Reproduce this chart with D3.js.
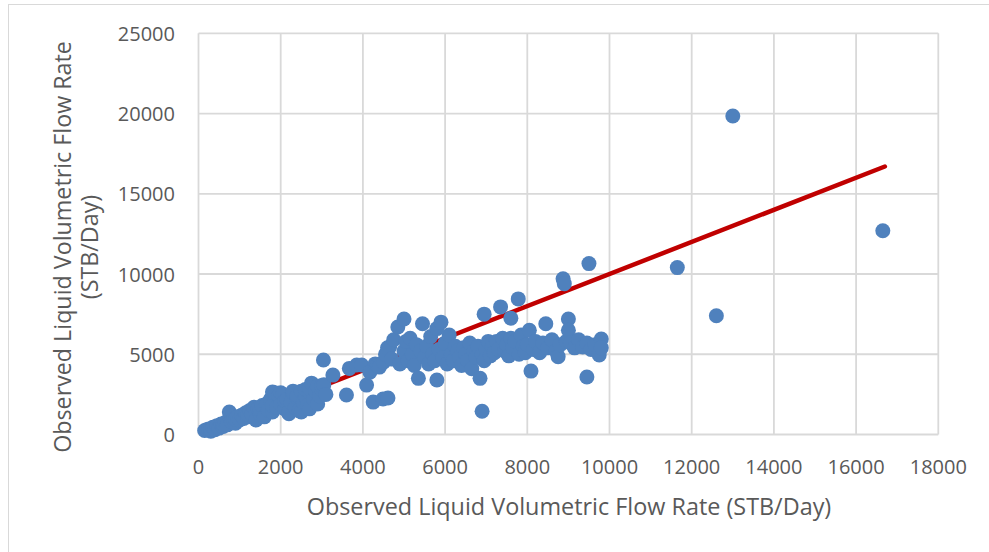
<!DOCTYPE html>
<html>
<head>
<meta charset="utf-8">
<script src="https://cdn.jsdelivr.net/npm/d3@7"></script>
<style>
  body { margin: 0; background: #fff; }
  text { font-family: "Open Sans", "Noto Sans", sans-serif; fill: #595959; }
</style>
</head>
<body>
<script>
// tick values
var xTicks = [0, 2000, 4000, 6000, 8000, 10000, 12000, 14000, 16000, 18000];
var yTicks = [0, 5000, 10000, 15000, 20000, 25000];

// observed vs predicted, [x, y] (STB/Day)
var lowRatePoints = [
  [150, 250], [200, 300], [250, 350], [300, 200], [300, 320], [350, 450], [400, 300],
  [450, 550], [500, 400], [550, 650], [600, 500], [600, 650], [650, 750], [700, 600],
  [750, 1400], [800, 800], [850, 950], [900, 700], [900, 950], [950, 1100], [1000, 900],
  [1050, 1200], [1100, 1000], [1150, 1350], [1200, 1100], [1200, 1250], [1250, 1500],
  [1300, 1250], [1350, 1700], [1400, 900], [1450, 1600], [1500, 1300], [1500, 1550],
  [1550, 1800], [1600, 1100], [1650, 1900], [1700, 1500], [1750, 2200], [1800, 1400],
  [1800, 1800], [1800, 2650], [1850, 2600], [1900, 1700], [1950, 2400], [2000, 1900],
  [2000, 2600], [2050, 2500], [2100, 1600], [2100, 2100], [2150, 2200], [2200, 1300],
  [2200, 1400], [2250, 2000], [2300, 2600], [2300, 2700], [2350, 1700], [2400, 2300],
  [2400, 2450], [2450, 1500], [2500, 1400], [2500, 2700], [2550, 2000], [2600, 2400],
  [2600, 2800], [2650, 1800], [2700, 1600], [2700, 2650], [2700, 2900], [2750, 3200],
  [2800, 2200], [2850, 2700], [2900, 1900], [2900, 3000], [2950, 2400], [3000, 2800],
  [3000, 3050], [3050, 3100], [3100, 2500]
];

var midRatePoints = [
  [3040, 4640], [3270, 3700], [3600, 2460], [3670, 4120], [3850, 4330], [3970, 4330],
  [4090, 3080], [4170, 3890], [4250, 2020], [4300, 4400], [4350, 4300], [4400, 4200],
  [4490, 2210], [4500, 4500], [4550, 5000], [4610, 2270], [4650, 5450]
];

var highRatePoints = [
  [4600, 5400], [4700, 4700], [4750, 5900], [4850, 6700], [4900, 4400], [5000, 7200],
  [5000, 5200], [5050, 5800], [5100, 4600], [5150, 6000], [5200, 5000], [5250, 4300],
  [5300, 5600], [5350, 3500], [5400, 5200], [5450, 6900], [5500, 4800], [5550, 5500],
  [5600, 4400], [5650, 6100], [5700, 5000], [5750, 4600], [5800, 3400], [5800, 6600],
  [5850, 5300], [5900, 7000], [5950, 4800], [6000, 5700], [6050, 4400], [6100, 6200],
  [6150, 5000], [6200, 4600], [6250, 5500], [6300, 5200], [6350, 4800], [6400, 4300],
  [6450, 5400], [6500, 5000], [6550, 4600], [6600, 5700], [6650, 4100], [6700, 5200],
  [6750, 4800], [6800, 5500], [6850, 3500], [6900, 5000], [6950, 4600], [7000, 5300],
  [7050, 5800], [7100, 4900], [7150, 5500], [7200, 5100], [7250, 5800], [7300, 5300],
  [7400, 6000], [7450, 5200], [7500, 5600], [7550, 4900], [7600, 7250], [7600, 6000],
  [7650, 5400], [7700, 5800], [7800, 5000], [7850, 6200], [7900, 5500], [7950, 5100],
  [8000, 5600], [8050, 6500], [8090, 3950], [8150, 5300], [8200, 5800], [8300, 5100],
  [8380, 5700], [8450, 6900], [8500, 5400], [8600, 5900], [8700, 5200], [8750, 4850],
  [8800, 5600], [8950, 5800], [9000, 7200], [9000, 6500], [9050, 5700], [9150, 5400],
  [9250, 5900], [9350, 5450], [9450, 3580], [9450, 5700], [9550, 5300], [9650, 5600],
  [9750, 4950], [9800, 5950], [9800, 5400]
];

var outlierPoints = [
  [6900, 1450], [6950, 7500], [7350, 7950], [7780, 8450], [8870, 9700], [8900, 9400],
  [9500, 10650], [11650, 10400], [12600, 7400], [13000, 19850], [16650, 12700]
];

// 1:1 reference line
var lineX = [150, 16700];
var lineY = [150, 16700];

var width = 989;
var height = 552;

var svg = d3.select("body")
            .append("svg")
            .attr("width", width)
            .attr("height", height);

// chart border
svg.append("rect")
   .attr("x", 8.5)
   .attr("y", 4.5)
   .attr("width", 990)
   .attr("height", 560)
   .attr("fill", "#fff")
   .attr("stroke", "#d9d9d9")
   .attr("stroke-width", 1);

var x = d3.scaleLinear()
          .domain([0, 18000])
          .range([198.5, 938.3]);

var y = d3.scaleLinear()
          .domain([0, 25000])
          .range([434.5, 33.3]);

// gridlines
svg.append("g")
   .selectAll("line")
   .data(xTicks)
   .enter()
     .append("line")
     .attr("x1", function(d) { return x(d); })
     .attr("x2", function(d) { return x(d); })
     .attr("y1", y(0))
     .attr("y2", y(25000))
     .attr("stroke", "#d9d9d9")
     .attr("stroke-width", 1.8);

svg.append("g")
   .selectAll("line")
   .data(yTicks)
   .enter()
     .append("line")
     .attr("x1", x(0))
     .attr("x2", x(18000))
     .attr("y1", function(d) { return y(d); })
     .attr("y2", function(d) { return y(d); })
     .attr("stroke", "#d9d9d9")
     .attr("stroke-width", 1.8);

// tick labels
svg.append("g")
   .selectAll("text")
   .data(xTicks)
   .enter()
     .append("text")
     .attr("x", function(d) { return x(d); })
     .attr("y", 466)
     .attr("text-anchor", "middle")
     .attr("dominant-baseline", "central")
     .attr("font-size", 20)
     .text(function(d) { return d; });

svg.append("g")
   .selectAll("text")
   .data(yTicks)
   .enter()
     .append("text")
     .attr("x", 175)
     .attr("y", function(d) { return y(d); })
     .attr("text-anchor", "end")
     .attr("dominant-baseline", "central")
     .attr("font-size", 20)
     .text(function(d) { return d; });

// make a label fill the width it has in the picture
function fitText(sel, target) {
  var size = +sel.attr("font-size");
  var w = sel.node().getComputedTextLength();
  sel.attr("font-size", size * target / w);
}

var xTitle = svg.append("text")
                .attr("x", 569)
                .attr("y", 506)
                .attr("text-anchor", "middle")
                .attr("dominant-baseline", "central")
                .attr("font-size", 22)
                .text("Observed Liquid Volumetric Flow Rate (STB/Day)");
fitText(xTitle, 525);

var yTitle1 = svg.append("text")
                 .attr("transform", "translate(62,247) rotate(-90)")
                 .attr("text-anchor", "middle")
                 .attr("dominant-baseline", "central")
                 .attr("font-size", 22)
                 .text("Observed Liquid Volumetric Flow Rate");
fitText(yTitle1, 412);

var yTitle2 = svg.append("text")
                 .attr("transform", "translate(89,247) rotate(-90)")
                 .attr("text-anchor", "middle")
                 .attr("dominant-baseline", "central")
                 .attr("font-size", +yTitle1.attr("font-size"))
                 .text("(STB/Day)");

// red 1:1 line under the points
svg.append("line")
   .attr("x1", x(lineX[0]))
   .attr("y1", y(lineY[0]))
   .attr("x2", x(lineX[1]))
   .attr("y2", y(lineY[1]))
   .attr("stroke", "#c00000")
   .attr("stroke-width", 4.5)
   .attr("stroke-linecap", "round");

var allPoints = lowRatePoints.concat(midRatePoints, highRatePoints, outlierPoints);

svg.append("g")
   .selectAll("circle")
   .data(allPoints)
   .enter()
     .append("circle")
     .attr("cx", function(d) { return x(d[0]); })
     .attr("cy", function(d) { return y(d[1]); })
     .attr("r", 7.5)
     .attr("fill", "#4f81bd");
</script>
</body>
</html>
